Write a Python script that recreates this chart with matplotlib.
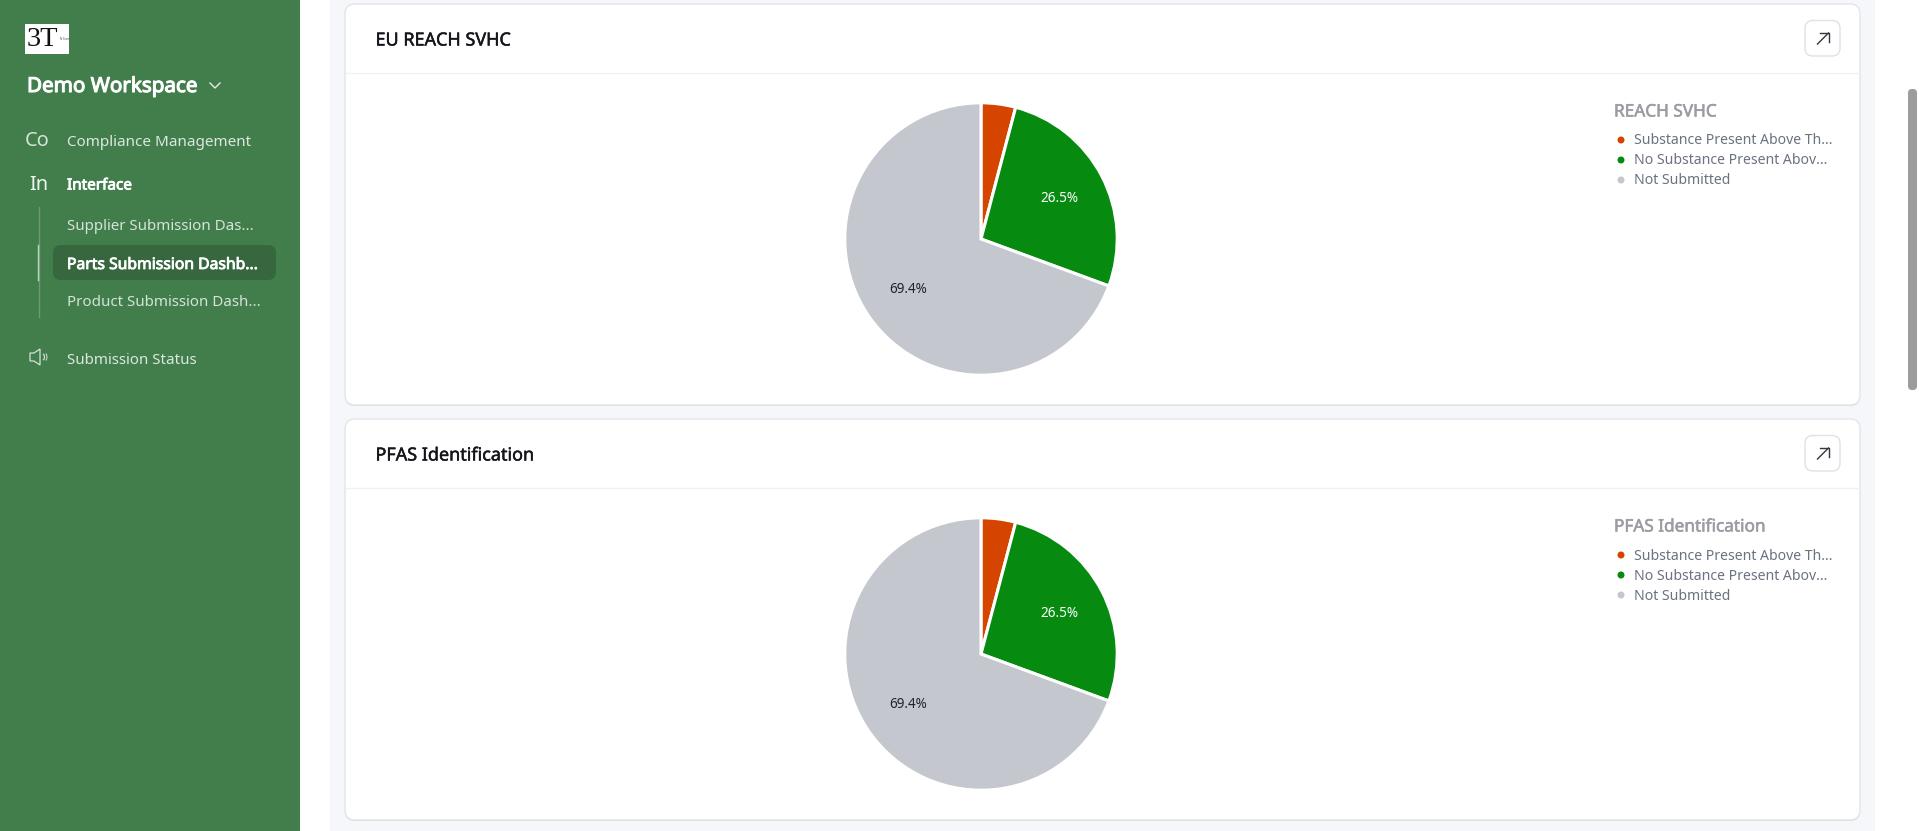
import matplotlib
matplotlib.use("Agg")
import matplotlib.pyplot as plt
import matplotlib.patheffects as pe
from matplotlib.patches import FancyBboxPatch, Rectangle, Circle, Polygon, Arc
from matplotlib.lines import Line2D

W, H = 1919, 831
plt.rcParams['font.family'] = ['Noto Sans', 'DejaVu Sans']

# data
categories = ["Substance Present Above Th...", "No Substance Present Abov...", "Not Submitted"]
reach_values = [4.1, 26.5, 69.4]
pfas_values = [4.1, 26.5, 69.4]
slice_colors = ["#D64500", "#078A10", "#C4C7CE"]
card_titles = ["EU REACH SVHC", "PFAS Identification"]
legend_titles = ["REACH SVHC", "PFAS Identification"]
nav_items = ["Compliance Management", "Interface", "Supplier Submission Das...",
             "Parts Submission Dashb...", "Product Submission Dash...", "Submission Status"]

fig = plt.figure(figsize=(W / 100, H / 100), dpi=100, facecolor="white")
ui = fig.add_axes([0, 0, 1, 1])
ui.set_xlim(0, W)
ui.set_ylim(H, 0)
ui.axis("off")


def px(size):
    return size * 0.72


def txt(x, y, s, size, color, heavy=0, **kw):
    t = ui.text(x, y + 1.5, s, fontsize=px(size), color=color,
                va="center", ha=kw.pop("ha", "left"), **kw)
    if heavy:
        t.set_path_effects([pe.withStroke(linewidth=heavy, foreground=color)])
    return t


def rbox(x0, y0, x1, y1, r, fc, ec="none", lw=0, z=1):
    ui.add_patch(FancyBboxPatch((x0 + r, y0 + r), x1 - x0 - 2 * r, y1 - y0 - 2 * r,
                                boxstyle=f"round,pad={r},rounding_size={r}",
                                fc=fc, ec=ec, lw=lw, zorder=z))


# page regions
ui.add_patch(Rectangle((330, 0), 1545, H, fc="#F6F7FB", ec="none", zorder=0))
ui.add_patch(Rectangle((0, 0), 300, H, fc="#427D4C", ec="none", zorder=1))
rbox(1908, 89, 1917, 390, 4, "#9C9C9C")

# sidebar
ui.add_patch(Rectangle((25, 24), 44, 30, fc="white", ec="none", zorder=2))
ui.text(27, 39, "3T", fontsize=20.5, family="Liberation Serif", color="#111111", va="center", zorder=3)
ui.text(60, 39, "N Stars", fontsize=2, color="#555555", va="center", zorder=3)
txt(27, 85.5, "Demo Workspace", 20.6, "white", heavy=0.8, zorder=3)
ui.add_line(Line2D([210, 215, 220], [83, 88, 83], color="#E4EDE6", lw=1, zorder=3))

txt(25, 140, "Co", 20, "#D5E3D8", zorder=3)
txt(29.5, 183, "In", 20, "#F2F6F3", zorder=3)
txt(67, 141.5, nav_items[0], 15.2, "#DCE8DF", zorder=3)
txt(67, 184.5, nav_items[1], 15.3, "white", heavy=0.6, zorder=3)
ui.add_line(Line2D([38.5, 38.5], [207, 317], color="#6C9A75", lw=1, zorder=2))
ui.add_line(Line2D([37.5, 37.5], [245, 280], color="#BFD4C4", lw=1, zorder=3))
rbox(53, 245, 276, 280, 8, "#36673F", z=2)
txt(67, 225.5, nav_items[2], 15.1, "#D5E3D8", zorder=3)
txt(67, 263.5, nav_items[3], 15.7, "white", heavy=0.6, zorder=3)
txt(67, 300.5, nav_items[4], 15.1, "#D5E3D8", zorder=3)
ui.add_patch(Polygon([(30, 353), (34, 353), (40, 349), (40, 365), (34, 361), (30, 361)],
                     fc="none", ec="#D5E3D8", lw=0.9, zorder=3))
ui.add_patch(Arc((42, 357), 5, 7, theta1=-70, theta2=70, ec="#D5E3D8", lw=0.9, zorder=3))
ui.add_patch(Arc((43, 357), 8, 10, theta1=-50, theta2=50, ec="#D5E3D8", lw=0.7, zorder=3))
txt(67, 359, nav_items[5], 15.1, "#DCE8DF", zorder=3)

# cards
card_tops = [4, 419]
for top, title, leg_title, values in zip(card_tops, card_titles, legend_titles,
                                         [reach_values, pfas_values]):
    bottom = top + 401
    rbox(345, top + 1, 1860, bottom + 1, 10, "#D5D6DB", z=2)
    rbox(345, top, 1860, bottom, 10, "white", ec="#E4E5E9", lw=1, z=3)
    ui.add_line(Line2D([346, 1859], [top + 68.5, top + 68.5], color="#F0F1F4", lw=1, zorder=4))
    txt(375.5, top + 35, title, 18, "#14161C", heavy=0.35, zorder=5)

    # expand button
    rbox(1805, top + 16.5, 1840, top + 52, 8, "white", ec="#DFE1E6", lw=1, z=5)
    ui.add_line(Line2D([1817.5, 1828.5], [top + 40, top + 29], color="#333740", lw=1, zorder=6))
    ui.add_line(Line2D([1819.5, 1828.5, 1828.5], [top + 29, top + 29, top + 38], color="#333740", lw=1, zorder=6))

    # legend
    txt(1614, top + 106, leg_title, 17.2, "#9B9DA3", heavy=0.4, zorder=5)
    for i, (label, col) in enumerate(zip(categories, slice_colors)):
        y = top + 136 + i * 20
        ui.add_patch(Circle((1621, y), 3.5, fc=col, ec="none", zorder=5))
        txt(1634, y - 0.5, label, 14.05, "#6B7280", zorder=5)

    # pie
    cx, cy, r = 981, top + 235, 136.2
    ax = fig.add_axes([(cx - r) / W, 1 - (cy + r) / H, 2 * r / W, 2 * r / H], zorder=5)
    ax.patch.set_alpha(0)
    wedges, _, autotexts = ax.pie(
        values, colors=slice_colors, startangle=90, counterclock=False, radius=1,
        autopct=lambda p: f"{p:.1f}%" if p > 10 else "", pctdistance=0.65,
        wedgeprops=dict(edgecolor="white", linewidth=2.2),
        textprops=dict(fontsize=px(13.5)))
    autotexts[1].set_color("white")
    autotexts[2].set_color("#1F2430")
    ax.set_xlim(-1, 1)
    ax.set_ylim(-1, 1)
    for w in wedges:
        w.set_clip_on(False)

fig.savefig("out.png", dpi=100, facecolor="white")
